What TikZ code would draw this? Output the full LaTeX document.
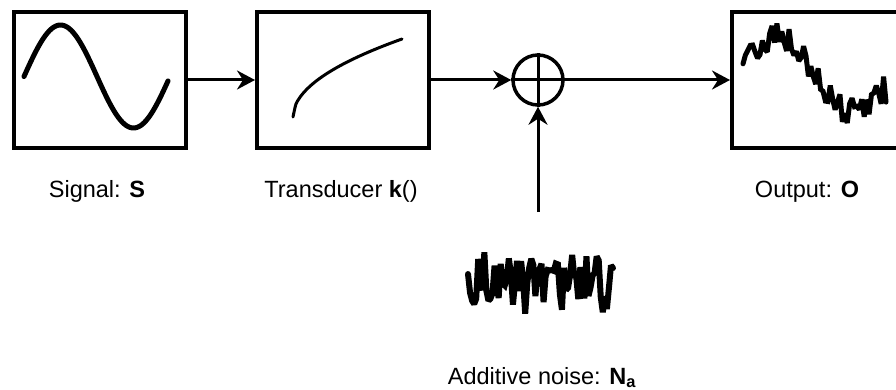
\documentclass[tikz,border=0pt]{standalone}
\usepackage{fontspec}
\setmainfont{Liberation Sans}
\usetikzlibrary{arrows.meta}
\begin{document}
\begin{tikzpicture}[x=1pt,y=-1pt,
  blk/.style={draw, line width=4pt, inner sep=0pt, minimum width=172pt, minimum height=136pt},
  conn/.style={line width=3pt, -{Stealth[length=18pt,width=19pt,inset=6pt]}},
  lbl/.style={font=\fontsize{23.5}{26}\selectfont, inner sep=0pt, anchor=base},
  wave/.style={line width=5pt, line cap=round, line join=round},
  sumnode/.style={draw, circle, line width=3.5pt, minimum size=50pt, inner sep=0pt}]
\useasboundingbox (0,0) rectangle (896,390);
% blocks
\node[blk] (s) at (100,80) {};
\node[blk] (k) at (343,80) {};
\node[blk, minimum width=180pt] (o) at (822,80) {};
\node[sumnode] (sum) at (538,80) {};
\draw[line width=3pt] (sum.north) -- (sum.south);
\draw[line width=3pt] (sum.west) -- (sum.east);
\coordinate (nz) at (538,212);
% connectors
\draw[conn] (s.east) -- (k.west);
\draw[conn] (k.east) -- (sum.west);
\draw[conn] (sum.east) -- (o.west);
\draw[conn] (nz) -- (sum.south);
% signal
\draw[wave] plot[domain=24:168, samples=80, smooth] (\x, {76.5 - 51.5*sin((\x-24)/146*360)});
% transducer
\draw[line width=3pt, line cap=round] plot[domain=0:1, samples=40, smooth] ({293+109*\x}, {117-78*sqrt(\x)});
% output
\pgfmathsetseed{11}
\draw[wave, line join=miter, miter limit=2] plot[domain=743:886, samples=60] (\x, {75-38*sin((\x-775)*2.25+90)+16*rand});
% noise
\pgfmathsetseed{3}
\draw[wave, line width=6pt, line join=miter, miter limit=2] plot[domain=468:613, samples=72] (\x, {281 + 28*rand + 24*rand*rand*rand});
% labels
\node[lbl] (ls) at (97,197) {Signal: \textbf{S}};
\node[lbl] (lk) at (341,197) {Transducer \textbf{k}()};
\node[lbl] (lo) at (807,197) {Output: \textbf{O}};
\node[lbl] (ln) at (542,384) {Additive noise: \textbf{N\textsubscript{a}}};
\end{tikzpicture}
\end{document}
